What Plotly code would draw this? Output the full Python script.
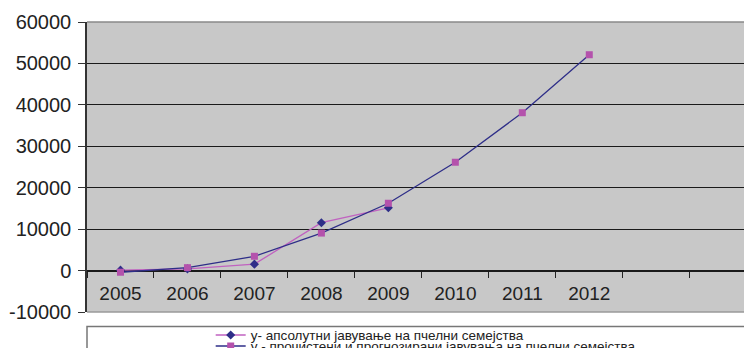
import plotly.graph_objects as go

# category axis: the plot shows two empty slots after 2012
categories = ['2005', '2006', '2007', '2008', '2009', '2010', '2011', '2012', '2013', '2014']
tick_labels = ['2005', '2006', '2007', '2008', '2009', '2010', '2011', '2012', '', '']

y_ticks = [-10000, 0, 10000, 20000, 30000, 40000, 50000, 60000]
y_tick_labels = ['-10000', '0', '10000', '20000', '30000', '40000', '50000', '60000']

years_abs = ['2005', '2006', '2007', '2008', '2009']
y_abs = [100, 400, 1550, 11550, 15150]

years_fit = ['2005', '2006', '2007', '2008', '2009', '2010', '2011', '2012']
y_fit = [-400, 700, 3450, 9050, 16250, 26150, 38100, 52100]

name_abs = 'у- апсолутни јавување на пчелни семејства'
name_fit = 'у - прочистени и прогнозирани јавувања на пчелни семејства'

PINK = '#C062C0'
PINK_MK = '#B452AC'
NAVY = '#2E2E88'
FONT = 'Liberation Sans, Arial, sans-serif'

fig = go.Figure()

fig.add_trace(
    go.Scatter(
        x = years_abs,
        y = y_abs,
        mode = 'lines+markers',
        name = name_abs,
        line = dict(color = PINK, width = 1.3),
        marker = dict(symbol = 'diamond', size = 7, color = NAVY),
        legend = 'legend'
    )
)

fig.add_trace(
    go.Scatter(
        x = years_fit,
        y = y_fit,
        mode = 'lines+markers',
        name = name_fit,
        line = dict(color = NAVY, width = 1.3),
        marker = dict(symbol = 'square', size = 7, color = PINK_MK),
        legend = 'legend2'
    )
)

legend_style = dict(
    xanchor = 'left',
    yanchor = 'middle',
    bgcolor = 'rgba(0,0,0,0)',
    borderwidth = 0,
    itemwidth = 30,
    font = dict(family = FONT, size = 13.5, color = '#222222')
)

# legend frame, cut off by the bottom/right edges like the original
shapes = [
    dict(type = 'rect', xref = 'paper', yref = 'paper',
         x0 = 0.0, x1 = 1.2, y0 = -0.05, y1 = -0.5,
         line = dict(color = '#777777', width = 1.5),
         fillcolor = 'white', layer = 'below'),
    dict(type = 'line', xref = 'paper', yref = 'paper',
         x0 = 0, x1 = 1, y0 = 1, y1 = 1,
         line = dict(color = '#8a8a8a', width = 1.5), layer = 'above'),
    dict(type = 'line', xref = 'paper', yref = 'paper',
         x0 = 0, x1 = 1, y0 = 0, y1 = 0,
         line = dict(color = '#9a9a9a', width = 1.5), layer = 'above'),
]

fig.update_layout(
    width = 752,
    height = 348,
    margin = dict(l = 79, r = 8, t = 14, b = 44, autoexpand = False),
    paper_bgcolor = 'white',
    plot_bgcolor = '#C8C8C8',
    showlegend = True,
    legend = dict(x = 0.186, y = -0.08, **legend_style),
    legend2 = dict(x = 0.186, y = -0.118, **legend_style),
    shapes = shapes,
    xaxis = dict(
        type = 'category',
        categoryorder = 'array',
        categoryarray = categories,
        tickvals = categories,
        ticktext = tick_labels,
        range = [-0.5, 9.43],
        anchor = 'free',
        position = 10000 / 70000,
        tickson = 'boundaries',
        ticks = 'outside',
        ticklen = 6,
        tickwidth = 1.3,
        tickcolor = '#222222',
        ticklabelstandoff = 9,
        showgrid = False,
        showline = False,
        automargin = False,
        tickfont = dict(family = FONT, size = 19, color = '#222222')
    ),
    yaxis = dict(
        range = [-10000, 60000],
        tickvals = y_ticks,
        ticktext = y_tick_labels,
        showgrid = True,
        gridcolor = '#1a1a1a',
        gridwidth = 1.2,
        zeroline = True,
        zerolinecolor = '#1a1a1a',
        zerolinewidth = 1.5,
        showline = True,
        linecolor = '#333333',
        linewidth = 1.5,
        ticks = 'outside',
        ticklen = 7,
        tickcolor = '#333333',
        ticklabelstandoff = 3,
        automargin = False,
        tickfont = dict(family = FONT, size = 20, color = '#222222')
    )
)

fig.write_html('out.html')
